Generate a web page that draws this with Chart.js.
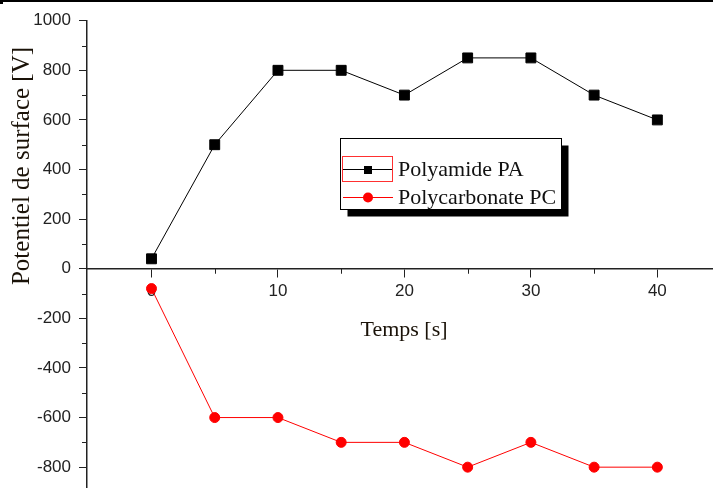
<!DOCTYPE html>
<html>
<head>
<meta charset="utf-8">
<script src="https://cdn.jsdelivr.net/npm/chart.js@4"></script>
<style>
  html, body { margin: 0; padding: 0; background: #fff; }
  #wrap { width: 713px; height: 488px; }
</style>
</head>
<body>
<div id="wrap"><canvas id="chart" width="713" height="488"></canvas></div>
<script>
// Temps [s]
const times = [0, 5, 10, 15, 20, 25, 30, 35, 40];
// Potentiel de surface [V]
const polyamide = [40, 500, 800, 800, 700, 850, 850, 700, 600];
const polycarbonate = [-80, -600, -600, -700, -700, -800, -700, -800, -800];
const seriesNames = ["Polyamide PA", "Polycarbonate PC"];
const yMinorTicks = [-700, -500, -300, -100, 100, 300, 500, 700, 900];
const xMinorTicks = [5, 15, 25, 35];

const serif = '"Liberation Serif", "Times New Roman", serif';
const sans = '"Liberation Sans", Arial, sans-serif';

// extras : petites graduations, titres d'axes, légende encadrée, bordure du haut
const extras = {
    id: "extras",
    afterDraw(chart) {
        const ctx = chart.ctx;
        const xs = chart.scales.x, ys = chart.scales.y;
        const area = chart.chartArea;
        const y0 = ys.getPixelForValue(0);
        ctx.save();
        ctx.strokeStyle = "#222";
        ctx.lineWidth = 1;
        ctx.beginPath();
        yMinorTicks.forEach(v => {
            const p = Math.round(ys.getPixelForValue(v)) + 0.5;
            ctx.moveTo(area.left - 5, p);
            ctx.lineTo(area.left, p);
        });
        xMinorTicks.forEach(v => {
            const p = Math.round(xs.getPixelForValue(v)) + 0.5;
            ctx.moveTo(p, y0);
            ctx.lineTo(p, y0 + 5);
        });
        ctx.stroke();

        // bordure du haut
        ctx.fillStyle = "#000";
        ctx.fillRect(0, 0, 713, 2);
        ctx.fillRect(0, 0, 3, 4);

        // titre axe Y
        ctx.fillStyle = "#1a1208";
        ctx.font = "25px " + serif;
        ctx.textAlign = "center";
        ctx.textBaseline = "middle";
        ctx.translate(22, 166);
        ctx.rotate(-Math.PI / 2);
        ctx.fillText("Potentiel de surface [V]", 0, 0);
        ctx.setTransform(1, 0, 0, 1, 0, 0);

        // titre axe X
        ctx.font = "22px " + serif;
        ctx.fillText("Temps [s]", 404, 330);

        // légende
        const bx = 340.5, by = 138.5, bw = 221, bh = 71;
        ctx.fillStyle = "#000";
        ctx.fillRect(bx + 7, by + 7, bw, bh);
        ctx.fillStyle = "#fff";
        ctx.fillRect(bx, by, bw, bh);
        ctx.strokeStyle = "#000";
        ctx.strokeRect(bx, by, bw, bh);

        const rows = [169, 197];
        chart.data.datasets.forEach((ds, i) => {
            const yy = rows[i] + 0.5;
            ctx.strokeStyle = ds.borderColor;
            ctx.lineWidth = 1;
            ctx.beginPath();
            ctx.moveTo(343, yy);
            ctx.lineTo(393, yy);
            ctx.stroke();
            ctx.fillStyle = ds.backgroundColor;
            if (ds.pointStyle === "rect") {
                ctx.fillRect(364, rows[i] - 3, 8, 8);
            } else {
                ctx.beginPath();
                ctx.arc(368, yy, 5, 0, Math.PI * 2);
                ctx.fill();
            }
            ctx.fillStyle = "#111";
            ctx.font = "22px " + serif;
            ctx.textAlign = "left";
            ctx.fillText(ds.label, 398, rows[i] + 1);
        });
        // cadre de sélection rouge autour du symbole
        ctx.strokeStyle = "#ff3030";
        ctx.strokeRect(342.5, 156.5, 50, 25);
        ctx.restore();
    }
};

const ctx = document.getElementById("chart").getContext("2d");
const chart = new Chart(ctx, {
    type: "line",
    data: {
        datasets: [{
            label: seriesNames[0],
            data: times.map((t, i) => ({ x: t, y: polyamide[i] })),
            borderColor: "#000",
            backgroundColor: "#000",
            borderWidth: 1,
            pointStyle: "rect",
            pointRadius: 7,
            pointBorderWidth: 1,
            pointHoverRadius: 7
        }, {
            label: seriesNames[1],
            data: times.map((t, i) => ({ x: t, y: polycarbonate[i] })),
            borderColor: "#ff0000",
            backgroundColor: "#ff0000",
            borderWidth: 1,
            pointStyle: "circle",
            pointRadius: 5,
            pointBorderWidth: 1,
            pointHoverRadius: 5
        }]
    },
    options: {
        responsive: false,
        animation: false,
        events: [],
        layout: { autoPadding: false, padding: { top: 20.7, left: 0, right: 0, bottom: 0 } },
        plugins: {
            legend: { display: false },
            tooltip: { enabled: false }
        },
        scales: {
            x: {
                type: "linear",
                position: { y: 0 },
                min: -5.1,
                max: 44.4,
                afterFit(scale) {
                    scale.paddingLeft = 0;
                    scale.paddingRight = 0;
                },
                ticks: {
                    stepSize: 10,
                    includeBounds: false,
                    color: "#222",
                    font: { family: sans, size: 17 },
                    padding: 4,
                    maxRotation: 0,
                    callback: v => String(v)
                },
                grid: {
                    drawOnChartArea: false,
                    tickLength: 8,
                    color: "#222"
                },
                border: { color: "#222", width: 1.5 }
            },
            y: {
                type: "linear",
                min: -884,
                max: 1000,
                afterFit(scale) {
                    scale.width = 87;
                    scale.paddingTop = 0;
                    scale.paddingBottom = 0;
                },
                ticks: {
                    stepSize: 200,
                    includeBounds: false,
                    color: "#222",
                    font: { family: sans, size: 17 },
                    padding: 8,
                    callback: v => String(v)
                },
                grid: {
                    drawOnChartArea: false,
                    tickLength: 8,
                    color: "#222"
                },
                border: { color: "#222", width: 1.5 }
            }
        }
    },
    plugins: [extras]
});
</script>
</body>
</html>
